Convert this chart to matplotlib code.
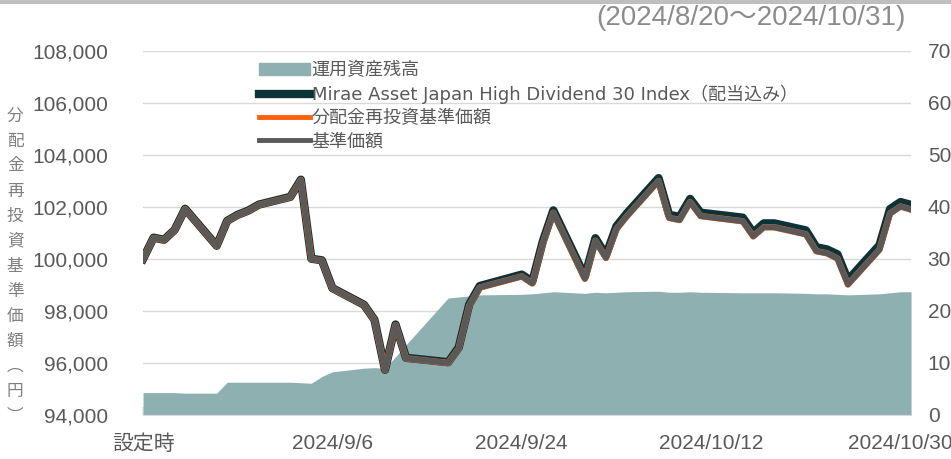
import matplotlib
matplotlib.use("Agg")
import matplotlib.pyplot as plt
from matplotlib.patches import Patch, Rectangle
from matplotlib.lines import Line2D
import pandas as pd

# データ（設定時 = 2024/8/19）
dates = ["2024-08-19", "2024-08-20", "2024-08-21", "2024-08-22", "2024-08-23",
         "2024-08-26", "2024-08-27", "2024-08-28", "2024-08-29", "2024-08-30",
         "2024-09-02", "2024-09-03", "2024-09-04", "2024-09-05", "2024-09-06",
         "2024-09-09", "2024-09-10", "2024-09-11", "2024-09-12", "2024-09-13",
         "2024-09-17", "2024-09-18", "2024-09-19", "2024-09-20",
         "2024-09-24", "2024-09-25", "2024-09-26", "2024-09-27",
         "2024-09-30", "2024-10-01", "2024-10-02", "2024-10-03", "2024-10-04",
         "2024-10-07", "2024-10-08", "2024-10-09", "2024-10-10", "2024-10-11",
         "2024-10-15", "2024-10-16", "2024-10-17", "2024-10-18",
         "2024-10-21", "2024-10-22", "2024-10-23", "2024-10-24", "2024-10-25",
         "2024-10-28", "2024-10-29", "2024-10-30", "2024-10-31"]

# 基準価額（円）
nav = [100000, 100810, 100730, 101110, 101920,
       100500, 101460, 101690, 101850, 102080,
       102380, 103040, 100000, 99940, 98870,
       98230, 97650, 95730, 97460, 96180,
       96000, 96550, 98200, 98900,
       99330, 99060, 100600, 101780,
       99240, 100700, 100040, 101150, 101650,
       103000, 101580, 101500, 102190, 101650,
       101450, 100870, 101220, 101220,
       100950, 100300, 100220, 100020, 99020,
       100360, 101750, 102020, 101900]

# 分配金再投資基準価額（円）
nav_reinv = [100000, 100810, 100730, 101110, 101920,
             100500, 101460, 101690, 101850, 102080,
             102380, 103040, 100000, 99940, 98870,
             98230, 97650, 95730, 97460, 96180,
             96000, 96550, 98200, 98900,
             99330, 99060, 100600, 101780,
             99240, 100700, 100040, 101150, 101650,
             103000, 101580, 101500, 102190, 101650,
             101450, 100870, 101220, 101220,
             100950, 100300, 100220, 100020, 99020,
             100360, 101750, 102020, 101900]

# Mirae Asset Japan High Dividend 30 Index（配当込み）
index = [100000, 100820, 100740, 101120, 101930,
         100510, 101470, 101700, 101860, 102090,
         102390, 103050, 100010, 99950, 98880,
         98240, 97660, 95740, 97480, 96200,
         96030, 96590, 98250, 98960,
         99400, 99130, 100680, 101870,
         99330, 100800, 100140, 101260, 101760,
         103110, 101700, 101620, 102310, 101780,
         101590, 101010, 101370, 101370,
         101100, 100450, 100370, 100180, 99190,
         100530, 101920, 102190, 102080]

# 運用資産残高（右軸）
aum = [4.3, 4.3, 4.3, 4.3, 4.2,
       4.2, 6.3, 6.3, 6.3, 6.3,
       6.3, 6.2, 6.1, 7.4, 8.3,
       9.0, 9.1, 9.0, 11.2, 13.5,
       22.5, 22.7, 22.9, 23.1,
       23.2, 23.3, 23.5, 23.7,
       23.4, 23.6, 23.5, 23.6, 23.7,
       23.8, 23.6, 23.6, 23.7, 23.6,
       23.5, 23.5, 23.5, 23.5,
       23.4, 23.3, 23.3, 23.2, 23.1,
       23.3, 23.5, 23.7, 23.7]

x_ticks = ["2024-08-19", "2024-09-06", "2024-09-24", "2024-10-12", "2024-10-30"]
x_labels = ["設定時", "2024/9/6", "2024/9/24", "2024/10/12", "2024/10/30"]
left_ticks = [94000, 96000, 98000, 100000, 102000, 104000, 106000, 108000]
right_ticks = [0, 10, 20, 30, 40, 50, 60, 70]

d = pd.to_datetime(dates)
jp = ["Liberation Sans", "Noto Sans CJK JP"]
txt = "#595959"

fig = plt.figure(figsize=(9.51, 4.59), dpi=100)
ax2 = fig.add_axes([0.1504, 0.0959, 0.8076, 0.7930])   # 面グラフ（右軸）
ax = ax2.twinx()                                         # 折れ線（左軸）
ax.set_zorder(ax2.get_zorder() + 1)
ax.patch.set_visible(False)

ax2.fill_between(d, 0, aum, color="#8fb0b0", lw=0, zorder=2)
ax2.set_ylim(0, 70)
ax2.set_yticks(right_ticks)
ax2.grid(axis="y", color="#d9d9d9", lw=1, zorder=0)
ax2.set_axisbelow(True)

ax.plot(d, index, color="#0b3338", lw=6, solid_joinstyle="round", zorder=3)
ax.plot(d, nav_reinv, color="#ff5f0f", lw=4.6, solid_joinstyle="round", zorder=4)
ax.plot(d, nav, color="#595959", lw=4.2, solid_joinstyle="round", zorder=5)
ax.set_ylim(94000, 108000)
ax.set_yticks(left_ticks)
ax.set_yticklabels([f"{v:,}" for v in left_ticks])

ax2.set_xlim(pd.Timestamp("2024-08-19"), pd.Timestamp("2024-10-31"))
ax2.set_xticks(pd.to_datetime(x_ticks))
ax2.set_xticklabels(x_labels)

# 軸の表示：左右を入れ替え
ax.yaxis.tick_left()
ax2.yaxis.tick_right()
ax.tick_params(axis="y", length=0, pad=25, labelsize=15, labelcolor=txt)
ax2.tick_params(axis="y", length=0, pad=12, labelsize=15, labelcolor=txt)
ax2.tick_params(axis="x", direction="in", length=6, width=1.5, color="#e6e6e6",
                pad=14, labelsize=15, labelcolor=txt)
for lab in ax.get_yticklabels() + ax2.get_yticklabels() + ax2.get_xticklabels():
    lab.set_family(jp)
for a in (ax, ax2):
    for s in a.spines.values():
        s.set_visible(False)
ax2.spines["bottom"].set_visible(True)
ax2.spines["bottom"].set_color("#d9d9d9")

# 凡例
handles = [Patch(color="#8fb0b0"),
           Line2D([], [], color="#0b3338", lw=6),
           Line2D([], [], color="#ff5f0f", lw=3.5),
           Line2D([], [], color="#595959", lw=3.5)]
labels = ["運用資産残高", "Mirae Asset Japan High Dividend 30 Index（配当込み）",
          "分配金再投資基準価額", "基準価額"]
leg = ax.legend(handles, labels, loc="upper left", bbox_to_anchor=(0.265, 0.882),
                bbox_transform=fig.transFigure, frameon=False, handlelength=2.8,
                handletextpad=0.1, labelspacing=0.29, borderaxespad=0,
                prop={"family": ["DejaVu Sans", "Noto Sans CJK JP"], "size": 13})
for t in leg.get_texts():
    t.set_color(txt)

# 上部の帯と期間
fig.add_artist(Rectangle((0, 1 - 4 / 459), 1, 4 / 459, transform=fig.transFigure,
                         color="#bfbfbf", lw=0))
fig.text(0.952, 0.960, "(2024/8/20～2024/10/31)", ha="right", va="center",
         fontsize=20, color="#8c8c8c", family=jp)

# 縦書きの軸ラベル
fig.text(0.016, 0.42, "\n".join("分配金再投資基準価額︵円︶"), ha="center", va="center",
         fontsize=12, color="#7f7f7f", linespacing=1.62,
         family=["Noto Sans CJK JP", "DejaVu Sans"])

fig.savefig("out.png", dpi=100)
